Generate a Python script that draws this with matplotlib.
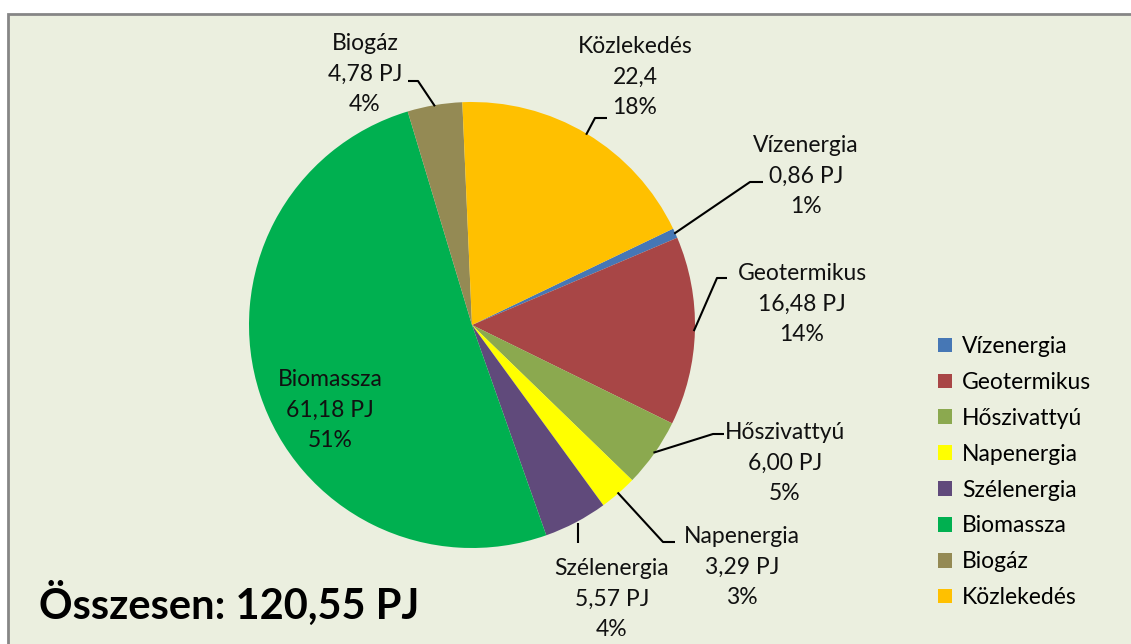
import numpy as np
import matplotlib
matplotlib.use('Agg')
import matplotlib.pyplot as plt
from matplotlib.patches import Rectangle

plt.rcParams['font.family'] = ['Lato', 'DejaVu Sans']

# ── adatok ──────────────────────────────────────────────
names = ['Vízenergia', 'Geotermikus', 'Hőszivattyú', 'Napenergia',
         'Szélenergia', 'Biomassza', 'Biogáz', 'Közlekedés']
values = [0.86, 16.48, 6.00, 3.29, 5.57, 61.18, 4.78, 22.4]
value_txt = ['0,86 PJ', '16,48 PJ', '6,00 PJ', '3,29 PJ',
             '5,57 PJ', '61,18 PJ', '4,78 PJ', '22,4']
pct_txt = ['1%', '14%', '5%', '3%', '4%', '51%', '4%', '18%']
colors = ['#4677B5', '#A84646', '#8BA94F', '#FFFF00',
          '#604A7B', '#00B050', '#948A54', '#FFC000']
total_txt = 'Összesen: 120,55 PJ'

# ── geometria (px) ──────────────────────────────────────
W, H = 1131, 644
CX, CY, R = 472, 325, 223
FS = 16.5

# címke középpont (px) és töréspont (px); None = nincs vezetővonal
lab_pos = [(806, 176), (802, 304), (785, 463), (742, 567),
           (612, 599), (330, 410), (365, 74), (635, 77)]
elbow = [[(763, 182), (750, 182)], [(727, 278), (717, 278)],
         [(724, 434), (713, 434)], [(675, 542), (663, 542)],
         [(578, 543)], None, [(408, 81), (418, 81)],
         [(607, 118), (595, 118)]]


def to_d(p):
    return ((p[0] - CX) / R, (CY - p[1]) / R)


fig = plt.figure(figsize=(W / 100, H / 100), dpi=100)
fig.patch.set_facecolor('white')

ax = fig.add_axes([0, 0, 1, 1])
ax.set_facecolor('none')
ax.add_patch(Rectangle((8 / W, -0.1), 1.2, (H - 14) / H + 0.1, transform=fig.transFigure,
                       facecolor='#EBEFDF', edgecolor='#868686', lw=2, zorder=-5))
start = 90 - 64.4  # első szelet iránya
wedges, _ = ax.pie(values, colors=colors, startangle=start, counterclock=False,
                   radius=1, wedgeprops=dict(linewidth=0))
ax.set_xlim(-CX / R, (W - CX) / R)
ax.set_ylim(-(H - CY) / R, CY / R)
ax.set_aspect('equal')
ax.axis('off')

for i, w in enumerate(wedges):
    x, y = to_d(lab_pos[i])
    ax.text(x, y, f'{names[i]}\n{value_txt[i]}\n{pct_txt[i]}', ha='center', va='center',
            fontsize=FS, linespacing=1.56, color='#111111')
    if elbow[i] is None:
        continue
    mid = np.deg2rad((w.theta1 + w.theta2) / 2)
    pts = [to_d(p) for p in elbow[i]]
    if len(pts) == 1:
        end = (pts[0][0], pts[0][1] + 20 / R)
    else:
        end = (0.995 * np.cos(mid), 0.995 * np.sin(mid))
    xs = [p[0] for p in pts] + [end[0]]
    ys = [p[1] for p in pts] + [end[1]]
    ax.plot(xs, ys, color='black', lw=1.5, solid_capstyle='butt')

ax.text(to_d((39, 0))[0], to_d((0, 603))[1], total_txt, ha='left', va='center',
        fontsize=30, fontweight='bold', color='black')

leg = ax.legend(wedges, names, loc='upper left', bbox_to_anchor=(938 / W, 1 - 336 / H),
                bbox_transform=fig.transFigure, frameon=False, fontsize=FS,
                handlelength=0.6, handleheight=0.6, handletextpad=0.45,
                labelspacing=0.65, borderpad=0, borderaxespad=0)

fig.savefig('out.png', dpi=100)
